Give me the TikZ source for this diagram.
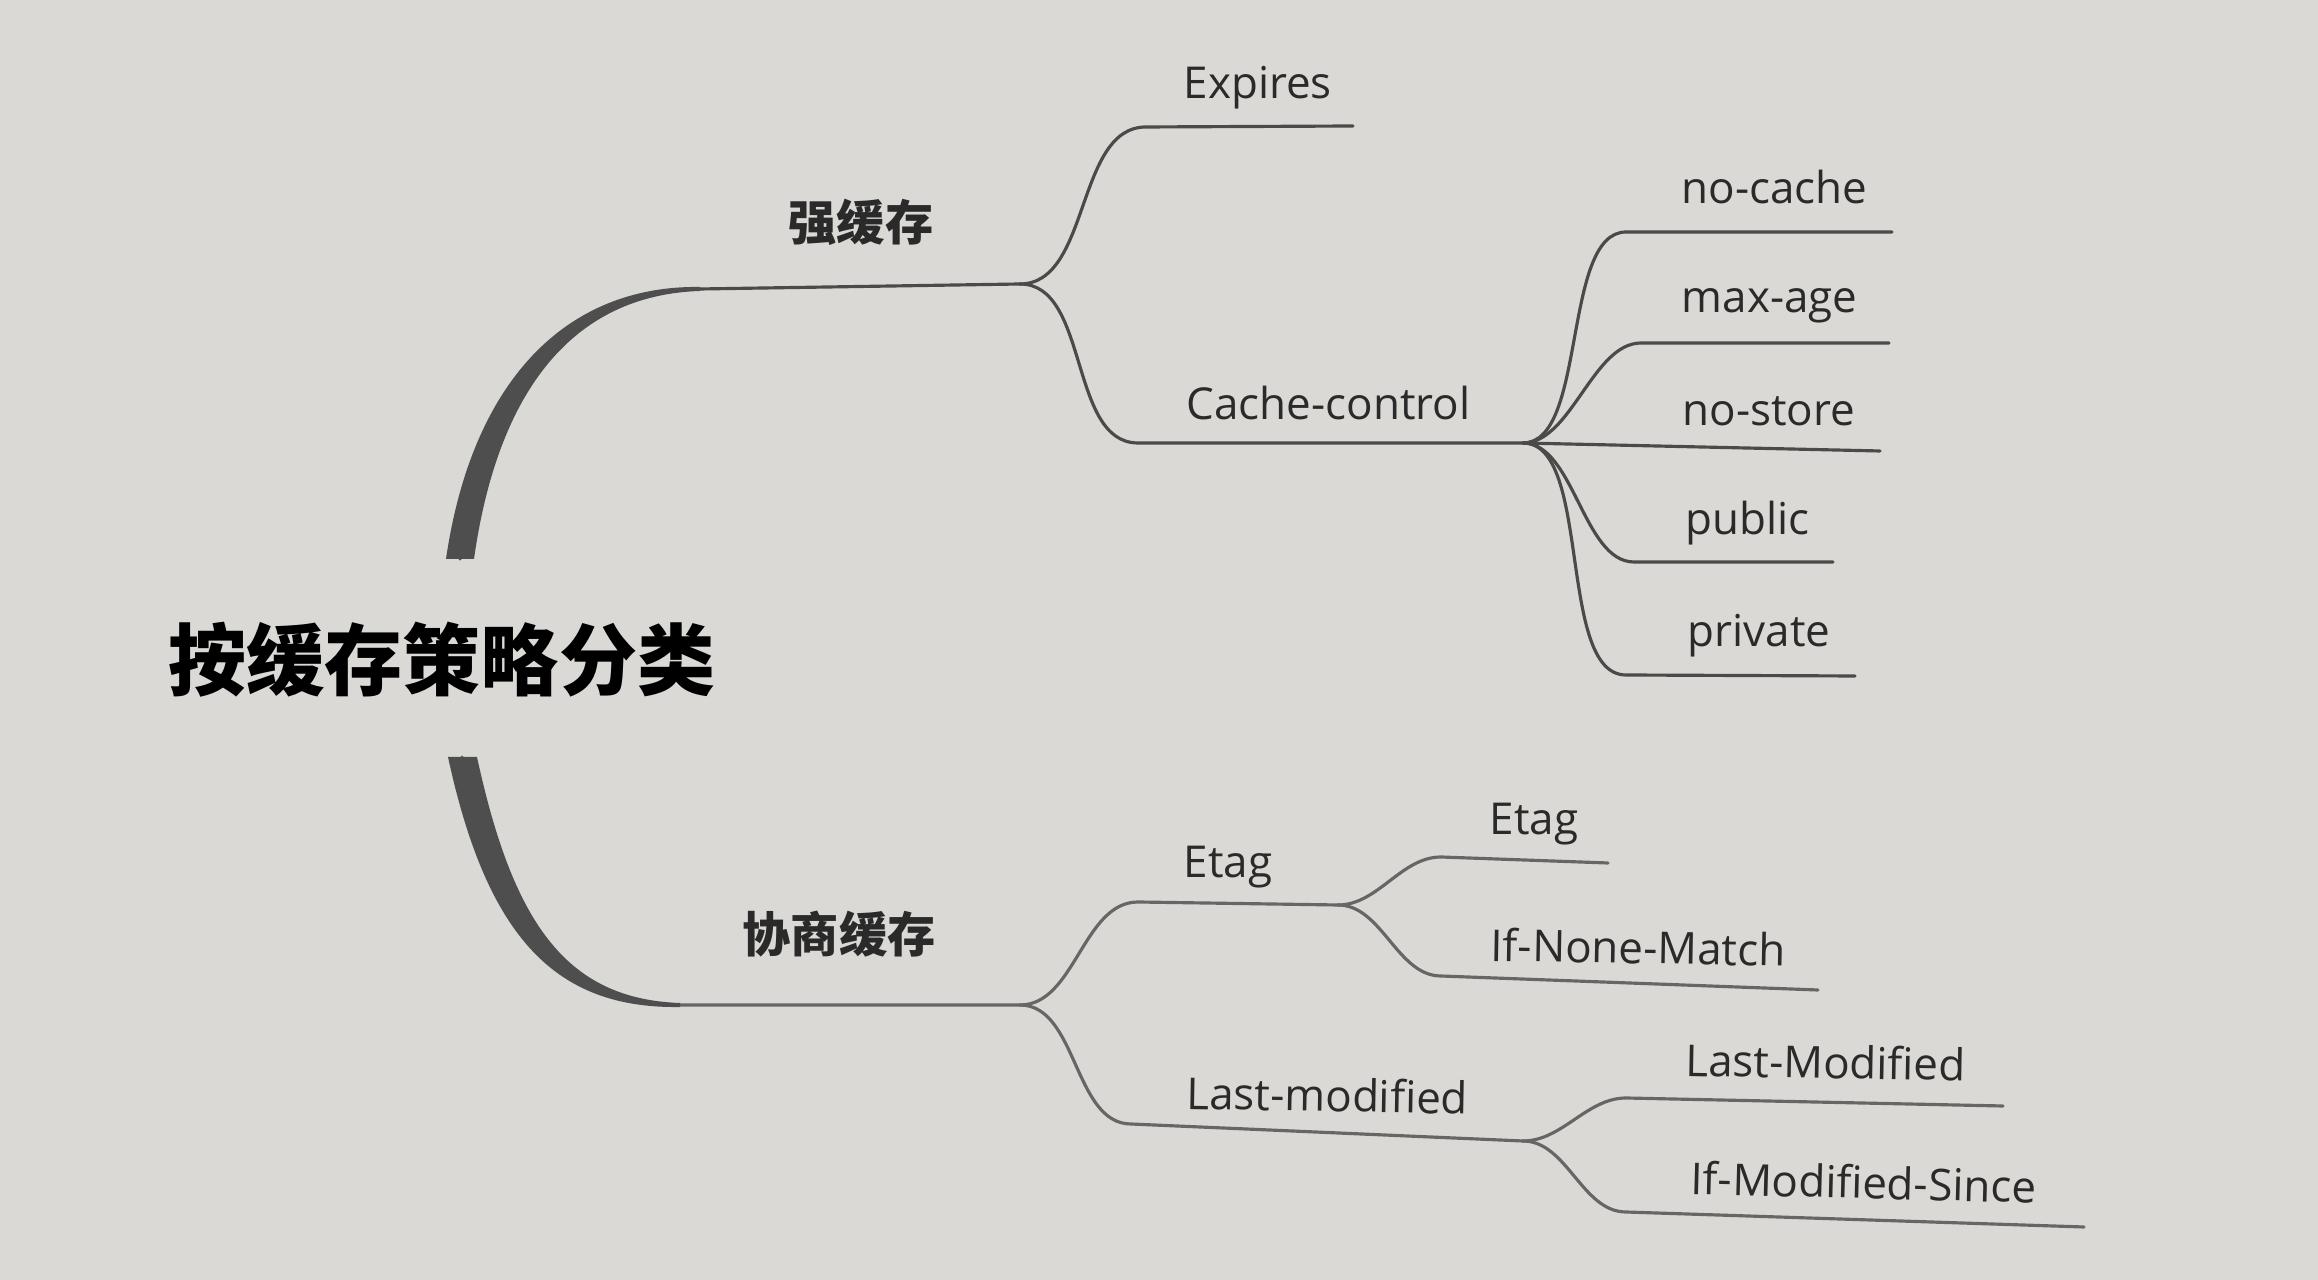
\documentclass[tikz,border=0pt]{standalone}
\usepackage{fontspec}
\setmainfont{Open Sans}
\newfontfamily\cjk{Noto Sans CJK SC}
\definecolor{bg}{HTML}{DAD9D5}
\definecolor{ink}{HTML}{2A2A2A}
\definecolor{lineup}{HTML}{4A4A4A}
\definecolor{linelow}{HTML}{666666}
\definecolor{thick}{HTML}{4E4E4E}
\begin{document}
\begin{tikzpicture}[x=0.01cm,y=-0.01cm,
  leaf/.style={font=\fontsize{12.5}{14}\selectfont, text=ink, inner sep=0pt, anchor=base west},
  cjklab/.style={font=\cjk\bfseries\fontsize{13.7}{16}\selectfont, text=ink, inner sep=0pt, anchor=south west},
  rootlab/.style={font=\cjk\bfseries\fontsize{22.2}{26}\selectfont, text=black, inner sep=0pt, anchor=west},
  connup/.style={draw=lineup, line width=0.9pt, line cap=round},
  connlow/.style={draw=linelow, line width=0.9pt, line cap=round},
  taper/.style={fill=thick, draw=none}]
\fill[bg] (0,0) rectangle (2318,1280);
\useasboundingbox (0,0) rectangle (2318,1280);

% root
\node[rootlab] (root) at (168,660) {按缓存策略分类};

% ---------- upper main branch ----------
\coordinate (ub) at (460,559);
\coordinate (uh) at (700,289);
\coordinate (S1) at (1020,284);
\draw[connup] (ub) .. controls (485,385) and (570,290) .. (uh) -- (S1);
\fill[taper] (446,559) .. controls (472,381) and (566,285) .. (700,287)
  -- (700,291) .. controls (574,295) and (498,389) .. (474,559) -- cycle;
\node[cjklab] (strong) at (788,246) {强缓存};

% Expires
\coordinate (ex1) at (1146,127);
\coordinate (ex2) at (1353,126);
\draw[connup] (S1) to[out=0,in=180,looseness=0.9] (ex1) -- (ex2);
\node[leaf] (expires) at (1183,99) {Expires};

% Cache-control
\coordinate (cc1) at (1138,443);
\coordinate (S2) at (1523,443);
\draw[connup] (S1) to[out=0,in=180,looseness=0.9] (cc1) -- (S2);
\node[leaf] (cachecontrol) at (1186,420) {Cache-control};

% Cache-control children
\coordinate (nc1) at (1626,232);  \coordinate (nc2) at (1892,232);
\coordinate (ma1) at (1641,343);  \coordinate (ma2) at (1889,343);
\coordinate (ns2) at (1880,451);
\coordinate (pu1) at (1634,562);  \coordinate (pu2) at (1833,562);
\coordinate (pr1) at (1626,675);  \coordinate (pr2) at (1855,676);
\draw[connup] (S2) to[out=0,in=180,looseness=0.7] (nc1) -- (nc2);
\draw[connup] (S2) to[out=0,in=180,looseness=0.8] (ma1) -- (ma2);
\draw[connup] (S2) -- (ns2);
\draw[connup] (S2) to[out=0,in=180,looseness=0.8] (pu1) -- (pu2);
\draw[connup] (S2) to[out=0,in=180,looseness=0.7] (pr1) -- (pr2);
\node[leaf] (nocache) at (1681,204) {no-cache};
\node[leaf] (maxage) at (1681,313) {max-age};
\node[leaf] (nostore) at (1682,426) {no-store};
\node[leaf] (public) at (1685,535) {public};
\node[leaf] (private) at (1687,647) {private};

% ---------- lower main branch ----------
\coordinate (lb) at (462,757);
\coordinate (lh) at (680,1005);
\coordinate (S3) at (1020,1005);
\draw[connlow] (lb) .. controls (500,930) and (560,1004) .. (lh) -- (S3);
\fill[taper] (448,757) .. controls (487,937) and (555,1009) .. (680,1007)
  -- (680,1003) .. controls (566,999) and (513,923) .. (477,757) -- cycle;
\node[cjklab] (nego) at (742,958) {协商缓存};

% Etag
\coordinate (et1) at (1138,902);
\coordinate (S4) at (1338,905);
\draw[connlow] (S3) to[out=0,in=180,looseness=0.9] (et1) -- (S4);
\node[leaf] (etag) at (1183,878) {Etag};

\coordinate (ec1) at (1441,857); \coordinate (ec2) at (1608,863);
\coordinate (in1) at (1441,976); \coordinate (in2) at (1818,990);
\draw[connlow] (S4) to[out=0,in=180,looseness=0.9] (ec1) -- (ec2);
\draw[connlow] (S4) to[out=0,in=180,looseness=0.9] (in1) -- (in2);
\node[leaf] (etagc) at (1489,835) {Etag};
\node[leaf,rotate=-1] (inm) at (1490,961) {If-None-Match};

% Last-modified
\coordinate (lm1) at (1131,1124);
\coordinate (S5) at (1523,1141);
\draw[connlow] (S3) to[out=0,in=180,looseness=0.9] (lm1) -- (S5);
\node[leaf,rotate=-1] (lastmod) at (1186,1109) {Last-modified};

\coordinate (lc1) at (1626,1098); \coordinate (lc2) at (2003,1106);
\coordinate (ims1) at (1626,1212); \coordinate (ims2) at (2084,1227);
\draw[connlow] (S5) to[out=0,in=180,looseness=0.9] (lc1) -- (lc2);
\draw[connlow] (S5) to[out=0,in=180,looseness=0.9] (ims1) -- (ims2);
\node[leaf,rotate=-1] (lastmodc) at (1685,1076) {Last-Modified};
\node[leaf,rotate=-1.5] (ims) at (1690,1194) {If-Modified-Since};
\end{tikzpicture}
\end{document}
